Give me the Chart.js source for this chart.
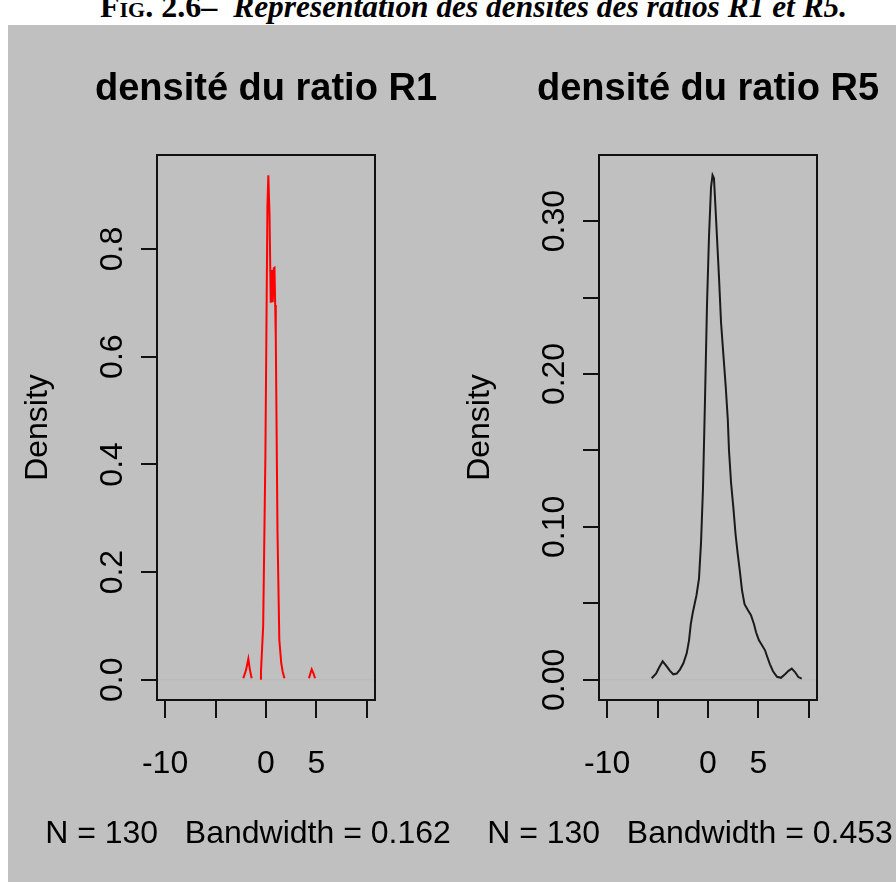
<!DOCTYPE html>
<html>
<head>
<meta charset="utf-8">
<script src="https://cdn.jsdelivr.net/npm/chart.js@4/dist/chart.umd.min.js"></script>
<style>
  body { margin: 0; background: #fff; width: 896px; height: 882px; overflow: hidden; position: relative; }
  #fig { position: absolute; left: 100px; top: -11px; white-space: nowrap;
         font: bold 32px "Liberation Serif", "Times New Roman", serif; line-height: 34px; color: #000; }
  #fig .sc { font-variant: small-caps; }
  #fig i { font-size: 31.4px; }
  #panel { position: absolute; left: 8px; top: 25px; width: 888px; height: 857px; background: #c0c0c0; }
  canvas { position: absolute; top: 0; }
</style>
</head>
<body>
<div id="fig"><span class="sc">Fig.</span> 2.6–&nbsp; <i>Représentation des densités des ratios R1 et R5.</i></div>
<div id="panel">
  <canvas id="r1" width="480" height="857" style="left:0"></canvas>
  <canvas id="r5" width="446" height="857" style="left:442px"></canvas>
</div>
<script>
// x ticks shared by both panels (R drops the overlapping labels)
var xTickValues = [-10, -5, 0, 5, 10];
var xTickLabels = ['-10', '', '0', '5', ''];

// ratio R1 density (gaps where the curve sits on zero)
var r1X = [-2.25, -1.98, -1.75, -1.59, -1.42, -1.0, -0.59, -0.50, -0.28, -0.06, 0.14, 0.23, 0.35, 0.47,
           0.57, 0.67, 0.77, 0.84, 0.91, 0.97, 1.14, 1.32, 1.51, 1.66, 1.83, 3.0, 4.26, 4.41, 4.53, 4.69, 4.86];
var r1Y = [0.003, 0.018, 0.039, 0.018, 0.003, null, 0.002, 0.0145, 0.100, 0.416, 0.877, 0.937, 0.862, 0.700,
           0.761, 0.701, 0.764, 0.765, 0.696, 0.635, 0.274, 0.074, 0.031, 0.0145, 0.003, null, 0.003, 0.0126, 0.0195, 0.0126, 0.003];
var r1YTicks = [0, 0.2, 0.4, 0.6, 0.8];
var r1YLabels = ['0.0', '0.2', '0.4', '0.6', '0.8'];

// ratio R5 density
var r5X = [-5.58, -5.15, -4.83, -4.49, -4.09, -3.77, -3.44, -3.10, -2.78, -2.45, -2.11, -1.88, -1.71, -1.52,
           -1.29, -1.14, -0.89, -0.69, -0.50, -0.30, -0.10, 0.10, 0.30, 0.45, 0.59, 0.69, 0.89, 1.09, 1.29,
           1.52, 1.76, 1.96, 2.08, 2.28, 2.51, 2.73, 2.94, 3.17, 3.37, 3.62, 3.96, 4.26, 4.56, 4.76, 5.05,
           5.35, 5.65, 5.85, 6.14, 6.44, 6.84, 7.23, 7.63, 7.98, 8.30, 8.62, 8.95, 9.29];
var r5Y = [0.001, 0.004, 0.0082, 0.0121, 0.0088, 0.0058, 0.0036, 0.0041, 0.0067, 0.0106, 0.0173, 0.0258, 0.0363, 0.0435,
           0.0507, 0.0553, 0.0664, 0.0899, 0.1246, 0.1821, 0.2449, 0.2901, 0.3221, 0.3300, 0.3280, 0.3156, 0.2894, 0.2632, 0.2338,
           0.2129, 0.1913, 0.1704, 0.1501, 0.1292, 0.1128, 0.0952, 0.0827, 0.0703, 0.0585, 0.0494, 0.0455, 0.0422, 0.0363, 0.0311, 0.0258,
           0.0226, 0.0193, 0.0154, 0.0101, 0.0056, 0.0020, 0.0013, 0.0036, 0.0059, 0.0073, 0.0051, 0.0018, 0.0008];
var r5YTicks = [0, 0.05, 0.10, 0.15, 0.20, 0.25, 0.30];
var r5YLabels = ['0.00', '', '0.10', '', '0.20', '', '0.30'];

var SANS = '"Liberation Sans", Arial, Helvetica, sans-serif';

var panelText = {
  id: 'panelText',
  afterDraw: function (chart) {
    var o = chart.options.plugins.panelText;
    var a = chart.chartArea, ctx = chart.ctx;
    var xs = chart.scales.x, ys = chart.scales.y;
    var cx = (a.left + a.right) / 2, cy = (a.top + a.bottom) / 2;
    ctx.save();
    ctx.strokeStyle = '#111';
    ctx.lineWidth = 2;
    ctx.strokeRect(a.left, a.top, a.right - a.left, a.bottom - a.top);
    ctx.fillStyle = '#000';
    ctx.textBaseline = 'alphabetic';
    ctx.textAlign = 'center';
    ctx.font = 'bold 38px ' + SANS;
    ctx.fillText(o.title, cx, a.top - 55);
    ctx.font = '32px ' + SANS;
    xTickValues.forEach(function (v, i) {
      if (xTickLabels[i]) ctx.fillText(xTickLabels[i], xs.getPixelForValue(v), a.bottom + 73);
    });
    ctx.fillText(o.sub, cx - 18, a.bottom + 143);
    o.yTicks.forEach(function (v, i) {
      if (!o.yLabels[i]) return;
      ctx.save();
      ctx.translate(a.left - 35, ys.getPixelForValue(v));
      ctx.rotate(-Math.PI / 2);
      ctx.fillText(o.yLabels[i], 0, 0);
      ctx.restore();
    });
    ctx.save();
    ctx.translate(a.left - 110, cy);
    ctx.rotate(-Math.PI / 2);
    ctx.fillText('Density', 0, 0);
    ctx.restore();
    ctx.restore();
  }
};

function makePanel(id, xs, ys, color, yTicks, yLabels, yMax, title, sub, padRight) {
  var pts = xs.map(function (x, i) { return { x: x, y: ys[i] }; });
  var yMin = -0.04 * yMax;
  new Chart(id, {
    type: 'line',
    data: {
      datasets: [{
        data: pts,
        borderColor: color,
        borderWidth: 2,
        pointRadius: 0,
        tension: 0,
        spanGaps: false,
        order: 0
      }, {
        data: [{ x: -10.8, y: 0 }, { x: 10.8, y: 0 }],
        borderColor: '#bababa',
        borderWidth: 1,
        pointRadius: 0,
        order: 1
      }]
    },
    options: {
      responsive: false,
      animation: false,
      layout: { padding: { top: 130, right: padRight, left: 0, bottom: 0 } },
      plugins: {
        legend: { display: false },
        title: { display: false },
        tooltip: { enabled: false },
        panelText: { title: title, sub: sub, yTicks: yTicks, yLabels: yLabels }
      },
      scales: {
        x: {
          type: 'linear', min: -10.8, max: 10.8,
          afterBuildTicks: function (s) { s.ticks = xTickValues.map(function (v) { return { value: v }; }); },
          afterFit: function (s) { s.height = 182; },
          ticks: { display: false },
          border: { display: false },
          grid: { drawOnChartArea: false, drawTicks: true, tickLength: 18, lineWidth: 2, color: '#111' }
        },
        y: {
          type: 'linear', min: yMin, max: yMax * 1.04,
          afterBuildTicks: function (s) { s.ticks = yTicks.map(function (v) { return { value: v }; }); },
          afterFit: function (s) { s.width = 149; },
          ticks: { display: false },
          border: { display: false },
          grid: { drawOnChartArea: false, drawTicks: true, tickLength: 16, lineWidth: 2, color: '#111' }
        }
      }
    },
    plugins: [panelText]
  });
}

makePanel('r1', r1X, r1Y, '#ff0000', r1YTicks, r1YLabels, 0.937,
  'densité du ratio R1', 'N = 130   Bandwidth = 0.162', 113);
makePanel('r5', r5X, r5Y, '#1a1a1a', r5YTicks, r5YLabels, 0.330,
  'densité du ratio R5', 'N = 130   Bandwidth = 0.453', 79);
</script>
</body>
</html>
